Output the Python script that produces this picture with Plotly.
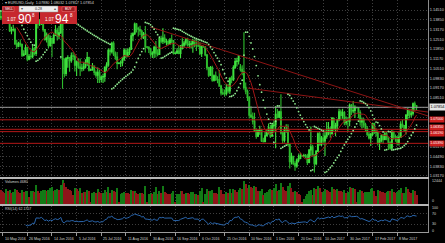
import plotly.graph_objects as go

# ---------------- data ----------------
OPEN = [
1.1402,1.1404,1.1385,1.1378,1.1427,1.1372,1.1310,1.1316,1.1318,1.1220,
1.1203,1.1224,1.1214,1.1141,1.1150,1.1192,1.1115,1.1135,1.1131,1.1184,
1.1153,1.1367,1.1355,1.1357,1.1395,1.1317,1.1250,1.1280,1.1209,1.1258,
1.1224,1.1277,1.1312,1.1272,1.1295,1.1380,1.1115,1.1017,1.1119,1.1125,
1.1105,1.1137,1.1135,1.1074,1.1096,1.1060,1.1052,1.1053,1.1062,1.1092,
1.1125,1.1040,1.1043,1.1067,1.1023,1.1005,1.1025,1.0976,1.0993,1.0995,
1.1059,1.1075,1.1175,1.1165,1.1223,1.1150,1.1130,1.1086,1.1088,1.1090,
1.1115,1.1177,1.1136,1.1160,1.1183,1.1275,1.1289,1.1355,1.1325,1.1318,
1.1307,1.1265,1.1286,1.1198,1.1196,1.1185,1.1148,1.1157,1.1196,1.1155,
1.1147,1.1255,1.1237,1.1259,1.1233,1.1236,1.1218,1.1246,1.1240,1.1154,
1.1158,1.1170,1.1154,1.1188,1.1211,1.1225,1.1250,1.1214,1.1217,1.1220,
1.1240,1.1206,1.1206,1.1205,1.1153,1.1200,1.1198,1.1143,1.1056,1.1005,
1.1058,1.0971,1.1001,1.0975,1.0974,1.0930,1.0884,1.0879,1.0878,1.0918,
1.0897,1.0985,1.0974,1.1057,1.1099,1.1102,1.1060,1.1045,1.1030,1.0922,
1.0895,1.0855,1.0732,1.0720,1.0691,1.0626,1.0588,1.0625,1.0630,1.0555,
1.0550,1.0590,1.0614,1.0645,1.0587,1.0660,1.0664,1.0737,1.0718,1.0755,
1.0610,1.0560,1.0634,1.0635,1.0530,1.0414,1.0450,1.0400,1.0384,1.0424,
1.0436,1.0454,1.0452,1.0456,1.0452,1.0408,1.0493,1.0516,1.0459,1.0400,
1.0486,1.0605,1.0530,1.0575,1.0555,1.0588,1.0612,1.0642,1.0605,1.0710,
1.0635,1.0660,1.0700,1.0755,1.0730,1.0750,1.0680,1.0695,1.0690,1.0800,
1.0760,1.0764,1.0785,1.0782,1.0750,1.0685,1.0700,1.0665,1.0640,1.0600,
1.0575,1.0600,1.0675,1.0615,1.0617,1.0540,1.0557,1.0590,1.0565,1.0605,
1.0575,1.0545,1.0505,1.0620,1.0585,1.0580,1.0545,1.0580,1.0670,1.0660,
1.0630,1.0730,1.0765,1.0735,1.0745,1.0810,1.0795]

HIGH = [
1.1445,1.1414,1.1410,1.1446,1.1436,1.1392,1.1336,1.1350,1.1329,1.1248,
1.1233,1.1250,1.1222,1.1175,1.1215,1.1200,1.1150,1.1168,1.1210,1.1198,
1.1374,1.1394,1.1387,1.1416,1.1400,1.1319,1.1297,1.1289,1.1276,1.1262,
1.1293,1.1348,1.1330,1.1341,1.1427,1.1386,1.1121,1.1129,1.1141,1.1127,
1.1160,1.1163,1.1148,1.1102,1.1120,1.1120,1.1083,1.1097,1.1114,1.1164,
1.1132,1.1048,1.1089,1.1072,1.1038,1.1058,1.1041,1.1002,1.1015,1.1067,
1.1094,1.1188,1.1190,1.1234,1.1237,1.1167,1.1164,1.1094,1.1105,1.1127,
1.1190,1.1182,1.1189,1.1196,1.1295,1.1298,1.1366,1.1362,1.1336,1.1343,
1.1315,1.1301,1.1342,1.1205,1.1203,1.1193,1.1168,1.1206,1.1239,1.1183,
1.1266,1.1275,1.1327,1.1285,1.1255,1.1248,1.1260,1.1283,1.1245,1.1162,
1.1190,1.1211,1.1211,1.1257,1.1240,1.1260,1.1262,1.1240,1.1241,1.1254,
1.1250,1.1246,1.1240,1.1230,1.1209,1.1207,1.1205,1.1150,1.1063,1.1068,
1.1069,1.1010,1.1030,1.0998,1.1040,1.0940,1.0911,1.0907,1.0945,1.0944,
1.0989,1.1001,1.1073,1.1123,1.1124,1.1142,1.1081,1.1073,1.1299,1.0955,
1.0908,1.0860,1.0793,1.0750,1.0749,1.0642,1.0633,1.0660,1.0638,1.0577,
1.0620,1.0635,1.0674,1.0665,1.0673,1.0690,1.0795,1.0773,1.0762,1.0874,
1.0624,1.0650,1.0669,1.0669,1.0535,1.0475,1.0454,1.0416,1.0436,1.0464,
1.0475,1.0460,1.0467,1.0466,1.0467,1.0500,1.0654,1.0530,1.0465,1.0492,
1.0615,1.0622,1.0590,1.0610,1.0629,1.0685,1.0685,1.0652,1.0719,1.0714,
1.0680,1.0707,1.0775,1.0771,1.0775,1.0760,1.0722,1.0715,1.0812,1.0808,
1.0829,1.0800,1.0790,1.0788,1.0765,1.0715,1.0712,1.0680,1.0658,1.0620,
1.0610,1.0680,1.0680,1.0640,1.0625,1.0575,1.0600,1.0603,1.0620,1.0617,
1.0580,1.0553,1.0630,1.0625,1.0600,1.0590,1.0615,1.0690,1.0700,1.0665,
1.0740,1.0780,1.0770,1.0775,1.0818,1.0825,1.0802]

LOW = [
1.1386,1.1370,1.1369,1.1375,1.1363,1.1301,1.1285,1.1304,1.1211,1.1184,
1.1196,1.1199,1.1129,1.1134,1.1144,1.1101,1.1108,1.1114,1.1121,1.1140,
1.1136,1.1324,1.1341,1.1348,1.1303,1.1240,1.1228,1.1190,1.1200,1.1130,
1.1220,1.1273,1.1242,1.1251,1.1286,1.0912,1.0990,1.1000,1.1056,1.1029,
1.1091,1.1109,1.1030,1.1000,1.1049,1.1000,1.1030,1.1036,1.1051,1.1068,
1.1030,1.1034,1.1036,1.1004,1.0988,1.0952,1.0951,1.0955,1.0952,1.0961,
1.1036,1.1062,1.1140,1.1154,1.1137,1.1111,1.1045,1.1080,1.1061,1.1066,
1.1103,1.1122,1.1128,1.1144,1.1178,1.1237,1.1280,1.1297,1.1269,1.1280,
1.1252,1.1253,1.1161,1.1190,1.1157,1.1132,1.1123,1.1122,1.1126,1.1135,
1.1143,1.1224,1.1218,1.1224,1.1208,1.1212,1.1214,1.1225,1.1146,1.1148,
1.1150,1.1149,1.1122,1.1180,1.1195,1.1208,1.1201,1.1192,1.1187,1.1158,
1.1196,1.1170,1.1196,1.1142,1.1129,1.1192,1.1135,1.1039,1.0993,1.0999,
1.0961,1.0962,1.0966,1.0950,1.0927,1.0866,1.0870,1.0859,1.0867,1.0882,
1.0876,1.0950,1.0965,1.1050,1.1065,1.1079,1.1031,1.1004,1.0905,1.0874,
1.0828,1.0709,1.0712,1.0667,1.0618,1.0570,1.0582,1.0597,1.0548,1.0545,
1.0547,1.0586,1.0600,1.0576,1.0585,1.0620,1.0505,1.0710,1.0710,1.0600,
1.0535,1.0545,1.0612,1.0519,1.0367,1.0395,1.0389,1.0352,1.0372,1.0412,
1.0430,1.0446,1.0443,1.0437,1.0391,1.0402,1.0450,1.0454,1.0340,1.0389,
1.0479,1.0523,1.0520,1.0537,1.0453,1.0570,1.0595,1.0578,1.0600,1.0625,
1.0588,1.0620,1.0690,1.0700,1.0708,1.0663,1.0663,1.0618,1.0655,1.0733,
1.0745,1.0712,1.0778,1.0710,1.0660,1.0640,1.0645,1.0620,1.0588,1.0565,
1.0520,1.0590,1.0602,1.0585,1.0525,1.0493,1.0545,1.0535,1.0560,1.0560,
1.0494,1.0495,1.0500,1.0565,1.0550,1.0525,1.0525,1.0575,1.0645,1.0620,
1.0600,1.0700,1.0710,1.0715,1.0730,1.0760,1.0765]

CLOSE = [
1.1404,1.1385,1.1378,1.1427,1.1372,1.1310,1.1316,1.1318,1.1220,1.1203,
1.1224,1.1214,1.1141,1.1150,1.1192,1.1115,1.1135,1.1131,1.1184,1.1153,
1.1367,1.1355,1.1357,1.1395,1.1317,1.1250,1.1280,1.1209,1.1258,1.1224,
1.1277,1.1312,1.1272,1.1295,1.1380,1.1115,1.1017,1.1119,1.1125,1.1105,
1.1137,1.1135,1.1074,1.1096,1.1060,1.1052,1.1053,1.1062,1.1092,1.1125,
1.1040,1.1043,1.1067,1.1023,1.1005,1.1025,1.0976,1.0993,1.0995,1.1059,
1.1075,1.1175,1.1165,1.1223,1.1150,1.1130,1.1086,1.1088,1.1090,1.1115,
1.1177,1.1136,1.1160,1.1183,1.1275,1.1289,1.1355,1.1325,1.1318,1.1307,
1.1265,1.1286,1.1198,1.1196,1.1185,1.1148,1.1157,1.1196,1.1155,1.1147,
1.1255,1.1237,1.1259,1.1233,1.1236,1.1218,1.1246,1.1240,1.1154,1.1158,
1.1170,1.1154,1.1188,1.1211,1.1225,1.1250,1.1214,1.1217,1.1220,1.1240,
1.1206,1.1206,1.1205,1.1153,1.1200,1.1198,1.1143,1.1056,1.1005,1.1058,
1.0971,1.1001,1.0975,1.0974,1.0930,1.0884,1.0879,1.0878,1.0918,1.0897,
1.0985,1.0974,1.1057,1.1099,1.1102,1.1138,1.1045,1.1030,1.0922,1.0895,
1.0855,1.0732,1.0720,1.0691,1.0626,1.0588,1.0625,1.0630,1.0555,1.0550,
1.0590,1.0614,1.0645,1.0587,1.0660,1.0664,1.0737,1.0718,1.0755,1.0610,
1.0560,1.0634,1.0635,1.0530,1.0414,1.0450,1.0400,1.0384,1.0424,1.0436,
1.0454,1.0452,1.0456,1.0452,1.0408,1.0493,1.0516,1.0459,1.0400,1.0486,
1.0605,1.0530,1.0575,1.0555,1.0588,1.0612,1.0642,1.0605,1.0710,1.0635,
1.0660,1.0700,1.0755,1.0730,1.0750,1.0680,1.0695,1.0690,1.0800,1.0760,
1.0764,1.0785,1.0782,1.0750,1.0685,1.0700,1.0665,1.0640,1.0600,1.0575,
1.0600,1.0675,1.0615,1.0617,1.0540,1.0557,1.0590,1.0565,1.0605,1.0575,
1.0545,1.0505,1.0620,1.0585,1.0580,1.0545,1.0580,1.0670,1.0660,1.0630,
1.0730,1.0765,1.0735,1.0745,1.0810,1.0795,1.07854]

VOLUME = [
7000,6200,5800,7600,6900,7200,5700,6300,7800,7300,
6100,5500,7000,5900,6500,6800,3500,6600,6900,6300,
9800,6800,5800,6600,7000,7400,6500,7200,8000,8600,
6600,7000,7600,7200,9600,12444,10900,8800,7600,7300,
6500,4700,8000,7600,6800,8400,5800,6300,6100,7000,
6500,700,5700,5900,5500,7600,6300,5400,5800,7300,
6100,8900,5700,7200,6600,6200,8200,700,5100,5500,
6300,5800,5700,5000,7300,6500,6900,5800,5300,5700,
5400,5100,9300,700,5300,5700,5000,6100,8600,4900,
6800,5500,9000,5900,5400,5300,5100,5400,6600,700,
4900,5100,6900,6500,5300,5800,5500,5300,5900,6200,
5000,5300,4700,6500,8400,700,5100,7600,6500,6800,
7200,5800,5500,5100,8800,7300,5300,5000,6100,5700,
7600,5800,7800,7000,6200,7300,8200,7700,11800,10400,
8400,9800,8600,8000,9200,8500,6500,6900,7600,4600,
5700,6100,7200,7800,7000,8100,10200,6900,7300,11000,
8900,7200,6600,9300,10800,8400,6100,6800,6200,5000,
4500,700,2400,3900,4900,6500,7400,4500,8400,7600,
9200,8200,6100,6300,7600,7200,6800,6200,8500,7800,
7000,7600,6800,6500,5900,7400,5800,6100,8600,8000,
8100,7800,700,6300,7400,6500,5800,6100,6200,6300,
7700,8100,6900,4300,7200,6800,6200,5900,5800,6300,
6900,6500,7800,5900,5500,6100,7000,8000,5700,5800,
8500,7600,6200,5700,7200,6600,4680]

X_TICK_LABELS = ["10 May 2016", "26 May 2016", "14 Jun 2016", "5 Jul 2016", "25 Jul 2016",
                 "11 Aug 2016", "30 Aug 2016", "16 Sep 2016", "6 Oct 2016", "25 Oct 2016",
                 "10 Nov 2016", "1 Dec 2016", "20 Dec 2016", "10 Jan 2017", "30 Jan 2017",
                 "17 Feb 2017", "8 Mar 2017"]
PRICE_TICKS = [1.14510, 1.13850, 1.13170, 1.12510, 1.11850, 1.11170, 1.10510, 1.09830, 1.09170,
               1.08510, 1.07830, 1.07170, 1.06510, 1.05830, 1.05170, 1.04490, 1.03830, 1.03170]
HIDDEN_PRICE_TICKS = [1.07830, 1.07170, 1.06510, 1.05830]
LEVELS = [1.07000, 1.06350, 1.06190, 1.05390]
LEVEL_LABEL_SHIFT = [0, 2, -2, 0]
TRENDLINES = [(85, 1.1335, 242.5, 1.0726), (140, 1.0917, 242.5, 1.0753)]
LAST_PRICE = 1.07854
HEADER = "\u25BE EURUSD,Daily  1.07880 1.08032 1.07817 1.07854"
VOLUME_LABEL = "Volumes 4680"
RSI_LABEL = "RSI(14) 62.1757"
RSI_TICKS = [0, 30, 70, 100]
RSI_TICK_SHIFT = [1.5, 0, 0, -1.5]
SELL_PRICE = ("1.07", "90", "8")
BUY_PRICE = ("1.07", "94", "8")
LOT = "0.28"

# ---------------- derived indicators ----------------
N = len(CLOSE)
X = list(range(N))
X_RANGE = [-0.5, 242.5]
X_TICKS = [1 + 14 * k for k in range(len(X_TICK_LABELS))]

def sma(vals, n):
    out = [None] * len(vals)
    for i in range(n - 1, len(vals)):
        out[i] = sum(vals[i - n + 1:i + 1]) / n
    return out

def psar(high, low, step=0.02, maxstep=0.2):
    n = len(high)
    out = [None] * n
    bull = False
    af = step
    ep = low[0]
    out[0] = high[0]
    for i in range(1, n):
        prev = out[i - 1]
        s = prev + af * (ep - prev)
        if bull:
            s = min(s, low[i - 1], low[i - 2] if i > 1 else low[i - 1])
            if low[i] < s:
                bull = False
                s = ep
                ep = low[i]
                af = step
            elif high[i] > ep:
                ep = high[i]
                af = min(af + step, maxstep)
        else:
            s = max(s, high[i - 1], high[i - 2] if i > 1 else high[i - 1])
            if high[i] > s:
                bull = True
                s = ep
                ep = high[i]
                af = step
            elif low[i] < ep:
                ep = low[i]
                af = min(af + step, maxstep)
        out[i] = s
    return out

def rsi(close, n=14):
    out = [None] * len(close)
    gains = [max(close[i] - close[i - 1], 0) for i in range(1, len(close))]
    losses = [max(close[i - 1] - close[i], 0) for i in range(1, len(close))]
    ag = sum(gains[:n]) / n
    al = sum(losses[:n]) / n
    out[n] = 100 - 100 / (1 + ag / al) if al > 0 else 100
    for i in range(n + 1, len(close)):
        ag = (ag * (n - 1) + gains[i - 1]) / n
        al = (al * (n - 1) + losses[i - 1]) / n
        out[i] = 100 - 100 / (1 + ag / al) if al > 0 else 100
    return out

MA = sma(CLOSE, 10)
SAR = psar(HIGH, LOW)
RSI = rsi(CLOSE, 14)
VMAX = max(VOLUME)
VOL_COLORS = ["#127a15" if i > 0 and VOLUME[i] > VOLUME[i - 1] else "#8f1519" for i in range(N)]

# ---------------- figure ----------------
W, H = 445, 243
R_MARGIN, B_MARGIN = 17, 11
PW, PH = W - R_MARGIN, H - B_MARGIN

def px(x):
    return x / PW

def py(y):
    return (PH - y) / PH

fig = go.Figure()

fig.add_trace(go.Candlestick(
    x=X, open=OPEN, high=HIGH, low=LOW, close=CLOSE, xaxis="x", yaxis="y",
    increasing=dict(line=dict(color="#3ee03e", width=1.1), fillcolor="#3ee03e"),
    decreasing=dict(line=dict(color="#2dbb2d", width=1.1), fillcolor="#1d8a1d"),
    whiskerwidth=0, hoverinfo="skip"))

for lv in LEVELS:
    fig.add_trace(go.Scatter(x=X_RANGE, y=[lv, lv], mode="lines", xaxis="x", yaxis="y",
                             line=dict(color="#b41818", width=1), hoverinfo="skip"))
fig.add_trace(go.Scatter(x=X_RANGE, y=[LAST_PRICE, LAST_PRICE], mode="lines", xaxis="x", yaxis="y",
                         line=dict(color="#9a9a9a", width=1), hoverinfo="skip"))
for (b0, p0, b1, p1) in TRENDLINES:
    fig.add_trace(go.Scatter(x=[b0, b1], y=[p0, p1], mode="lines", xaxis="x", yaxis="y",
                             line=dict(color="#8e1414", width=1), hoverinfo="skip"))

fig.add_trace(go.Scatter(x=X[9:], y=MA[9:], mode="lines", xaxis="x", yaxis="y",
                         line=dict(color="#a01616", width=1), hoverinfo="skip"))
fig.add_trace(go.Scatter(x=X, y=SAR, mode="markers", xaxis="x", yaxis="y",
                         marker=dict(color="#8fe88f", size=1.8, line=dict(width=0)), hoverinfo="skip"))

fig.add_trace(go.Bar(x=X, y=VOLUME, xaxis="x2", yaxis="y2", width=0.6,
                     marker=dict(color=VOL_COLORS, line=dict(width=0)), hoverinfo="skip"))

fig.add_trace(go.Scatter(x=X[14:], y=RSI[14:], mode="lines", xaxis="x3", yaxis="y3",
                         line=dict(color="#2a66ad", width=1), hoverinfo="skip"))

GRID = "#3e3e3e"
TXT = "#d4d4d4"
xcommon = dict(range=X_RANGE, tickvals=X_TICKS, showticklabels=False, showgrid=True,
               gridcolor=GRID, griddash="1px,2px", gridwidth=1, zeroline=False)

price_text = ["" if t in HIDDEN_PRICE_TICKS else f"{t:.5f}" for t in PRICE_TICKS]
top_price = 1.1451 + 10 * 0.000684
bot_price = top_price - 177 * 0.000684

fig.update_layout(
    width=W, height=H, margin=dict(l=0, r=R_MARGIN, t=0, b=B_MARGIN),
    paper_bgcolor="#000000", plot_bgcolor="#000000", showlegend=False,
    font=dict(family="Liberation Sans, Arial, sans-serif", color=TXT),
    bargap=0,
    xaxis=dict(**xcommon, anchor="y", domain=[0, 1], rangeslider=dict(visible=False),
               showline=True, linecolor="#b8b8b8", linewidth=2),
    xaxis2=dict(**xcommon, anchor="y2", matches="x", showline=True, linecolor="#b8b8b8", linewidth=2),
    xaxis3=dict(**xcommon, anchor="y3", matches="x", showline=True, linecolor="#9a9a9a", linewidth=1,
                ticks="outside", ticklen=3, tickcolor="#9a9a9a"),
    yaxis=dict(domain=[py(177), 1], range=[bot_price, top_price], side="right", anchor="x",
               tickvals=PRICE_TICKS, ticktext=price_text, tickfont=dict(size=3.9, color=TXT),
               showgrid=True, gridcolor=GRID, griddash="1px,2px", zeroline=False,
               showline=True, linecolor="#8c8c8c", linewidth=1),
    yaxis2=dict(domain=[py(204), py(179)], range=[0, VMAX * 1.03], side="right", anchor="x2",
                showticklabels=False, showgrid=False, zeroline=False,
                showline=True, linecolor="#8c8c8c", linewidth=1),
    yaxis3=dict(domain=[0, py(206)], range=[0, 100], side="right", anchor="x3",
                tickvals=RSI_TICKS, showticklabels=False,
                showgrid=True, gridcolor=GRID, griddash="1px,2px", zeroline=False,
                showline=True, linecolor="#8c8c8c", linewidth=1),
)

ann = []
for tv, lab in zip(X_TICKS, X_TICK_LABELS):
    ann.append(dict(x=tv, xref="x3", y=0, yref="paper", yanchor="top", xanchor="left", yshift=-3,
                    text=lab, showarrow=False, font=dict(size=3.6, color=TXT)))
ann.append(dict(x=1, xref="paper", y=LAST_PRICE, yref="y", xanchor="left", xshift=1,
                text=f"{LAST_PRICE:.5f}", showarrow=False, bgcolor="#e6e6e6", borderpad=0.4,
                font=dict(size=3.9, color="#000000")))
for lv, sh in zip(LEVELS, LEVEL_LABEL_SHIFT):
    ann.append(dict(x=1, xref="paper", y=lv, yref="y", xanchor="left", xshift=1, yshift=sh,
                    text=f"{lv:.5f}", showarrow=False, bgcolor="#cc1e1e", borderpad=0.3,
                    font=dict(size=3.6, color="#ffffff")))
# volume scale labels
ann.append(dict(x=1, xref="paper", y=VMAX, yref="y2", xanchor="left", xshift=2, yshift=-1.5,
                text=str(VMAX), showarrow=False, font=dict(size=3.6, color=TXT)))
ann.append(dict(x=1, xref="paper", y=0, yref="y2", xanchor="left", xshift=2, yshift=3,
                text="0", showarrow=False, font=dict(size=3.6, color=TXT)))
# RSI scale labels
for t, sh in zip(RSI_TICKS, RSI_TICK_SHIFT):
    ann.append(dict(x=1, xref="paper", y=t, yref="y3", xanchor="left", xshift=2, yshift=sh,
                    text=str(t), showarrow=False, font=dict(size=3.6, color=TXT)))
ann.append(dict(x=px(3), y=py(182), xref="paper", yref="paper", xanchor="left", yanchor="middle",
                text=VOLUME_LABEL, showarrow=False, font=dict(size=3.6, color=TXT)))
ann.append(dict(x=px(3), y=py(209), xref="paper", yref="paper", xanchor="left", yanchor="middle",
                text=RSI_LABEL, showarrow=False, font=dict(size=3.6, color=TXT)))
ann.append(dict(x=px(3), y=py(3), xref="paper", yref="paper", xanchor="left", yanchor="middle",
                text=HEADER, showarrow=False, font=dict(size=3.8, color=TXT)))

shapes = []
for (x0, x1) in [(2, 39), (40, 77)]:
    shapes.append(dict(type="rect", xref="paper", yref="paper", x0=px(x0), x1=px(x1),
                       y0=py(24), y1=py(6), fillcolor="#c7282e", line=dict(width=0), layer="above"))
for (x0, x1) in [(3, 14), (62, 75)]:
    shapes.append(dict(type="rect", xref="paper", yref="paper", x0=px(x0), x1=px(x1),
                       y0=py(11.5), y1=py(6.8), fillcolor="#a21c22",
                       line=dict(width=0.5, color="#e77"), layer="above"))
shapes.append(dict(type="rect", xref="paper", yref="paper", x0=px(19), x1=px(58),
                   y0=py(12), y1=py(6), fillcolor="#eeeeee", line=dict(width=0.5, color="#888"),
                   layer="above"))

def pt(x, y, text, size, color="#ffffff"):
    return dict(x=px(x), y=py(y), xref="paper", yref="paper", xanchor="center", yanchor="middle",
                text=text, showarrow=False, font=dict(size=size, color=color))

ann += [pt(8.5, 9.2, "SELL", 3.3), pt(68.5, 9.2, "BUY", 3.3),
        pt(22, 9, "\u25BE", 3.5, "#555555"), pt(55, 9, "\u25B4", 3.5, "#555555"),
        pt(38.5, 9, LOT, 3.6, "#222222"),
        pt(11, 19.5, SELL_PRICE[0], 4.5), pt(24.5, 18.5, SELL_PRICE[1], 12), pt(33.5, 15.5, SELL_PRICE[2], 4.5),
        pt(49.5, 19.5, BUY_PRICE[0], 4.5), pt(62, 18.5, BUY_PRICE[1], 12), pt(71.5, 15.5, BUY_PRICE[2], 4.5)]

fig.update_layout(annotations=ann, shapes=shapes)
fig.write_html("out.html")
